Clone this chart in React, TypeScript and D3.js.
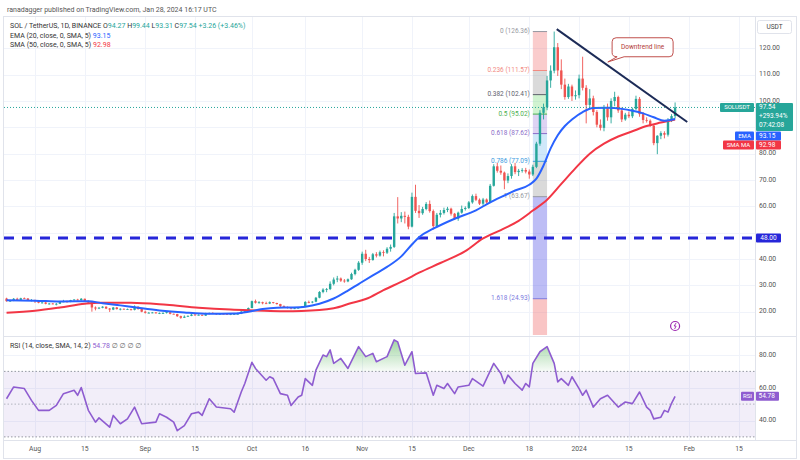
import React from "react";
import * as d3 from "d3";

type OHLC = [number, number, number, number];

// ---------- DATA ----------
const firstCandleDate = "2023-07-24";
const julCandles: OHLC[] = [
  [25.0, 25.3, 23.8, 24.0], [24.0, 24.5, 23.7, 24.2], [24.2, 25.2, 24.0, 24.9], [24.9, 25.3, 24.3, 24.5],
  [24.5, 25.3, 24.3, 25.1], [25.1, 25.4, 24.8, 25.0], [25.0, 25.2, 24.1, 24.3], [24.3, 24.8, 23.9, 24.4],
];
const augCandles: OHLC[] = [
  [24.4, 24.6, 23.3, 24.0], [24.0, 24.4, 23.2, 23.4], [23.4, 24.0, 23.1, 23.5], [23.5, 23.8, 22.8, 23.0],
  [23.0, 23.3, 22.7, 23.1], [23.1, 23.3, 22.8, 22.9], [22.9, 23.3, 22.4, 23.0], [23.0, 24.1, 22.9, 23.8],
  [23.8, 24.5, 23.6, 23.9], [23.9, 24.2, 23.5, 23.7], [23.7, 24.5, 23.6, 24.4], [24.4, 24.8, 24.2, 24.6],
  [24.6, 24.9, 24.2, 24.4], [24.4, 25.2, 24.2, 24.9], [24.9, 25.0, 23.7, 24.1], [24.1, 24.3, 23.2, 23.5],
  [23.5, 23.7, 20.0, 21.6], [21.6, 22.0, 20.5, 21.2], [21.2, 21.8, 21.0, 21.5], [21.5, 22.1, 21.3, 21.9],
  [21.9, 22.0, 21.0, 21.2], [21.2, 21.4, 19.9, 20.8], [20.8, 21.8, 20.6, 21.6], [21.6, 21.8, 20.8, 21.0],
  [21.0, 21.3, 20.5, 21.1], [21.1, 21.2, 20.8, 20.9], [20.9, 21.2, 20.7, 21.0], [21.0, 21.1, 20.4, 20.7],
  [20.7, 22.4, 20.5, 21.9], [21.9, 22.0, 20.8, 21.0], [21.0, 21.2, 19.8, 20.0],
];
const sepCandles: OHLC[] = [
  [20.0, 20.4, 19.3, 19.6], [19.6, 19.9, 19.4, 19.6], [19.6, 19.9, 19.4, 19.7], [19.7, 19.9, 19.3, 19.4],
  [19.4, 19.7, 19.1, 19.5], [19.5, 19.8, 19.2, 19.5], [19.5, 19.9, 19.3, 19.8], [19.8, 19.9, 19.0, 19.2],
  [19.2, 19.3, 19.0, 19.1], [19.1, 19.2, 18.0, 18.3], [18.3, 18.5, 17.3, 17.7], [17.7, 18.6, 17.6, 18.1],
  [18.1, 18.6, 18.0, 18.4], [18.4, 19.3, 18.3, 18.9], [18.9, 19.2, 18.5, 18.8], [18.8, 19.0, 18.6, 18.8],
  [18.8, 18.9, 18.4, 18.5], [18.5, 19.6, 18.4, 19.1], [19.1, 19.7, 19.0, 19.5], [19.5, 19.8, 19.2, 19.4],
  [19.4, 19.5, 18.8, 19.0], [19.0, 19.3, 18.9, 19.2], [19.2, 19.3, 19.0, 19.1], [19.1, 19.3, 18.9, 19.0],
  [19.0, 19.3, 18.7, 19.1], [19.1, 19.3, 18.9, 19.1], [19.1, 19.6, 18.9, 19.2], [19.2, 20.4, 19.1, 20.0],
  [20.0, 20.6, 19.9, 20.3], [20.3, 21.6, 20.2, 21.4],
];
const octCandles: OHLC[] = [
  [21.4, 24.2, 21.3, 24.0], [24.0, 24.6, 23.1, 23.4], [23.4, 24.0, 23.0, 23.6], [23.6, 23.8, 22.8, 23.2],
  [23.2, 23.8, 22.9, 23.1], [23.1, 23.9, 22.9, 23.6], [23.6, 23.7, 23.1, 23.3], [23.3, 23.4, 22.7, 22.9],
  [22.9, 23.0, 21.7, 22.1], [22.1, 22.4, 21.6, 21.8], [21.8, 22.0, 21.2, 21.5], [21.5, 21.6, 20.9, 21.2],
  [21.2, 21.6, 21.0, 21.3], [21.3, 21.7, 21.2, 21.5], [21.5, 22.0, 21.4, 21.9], [21.9, 24.0, 21.8, 23.7],
  [23.7, 24.2, 23.2, 23.6], [23.6, 24.0, 23.2, 23.8], [23.8, 25.6, 23.6, 25.3], [25.3, 27.8, 25.1, 27.5],
  [27.5, 28.9, 27.0, 28.4], [28.4, 29.0, 27.4, 28.6], [28.6, 31.5, 28.2, 30.6], [30.6, 33.0, 30.0, 32.2],
  [32.2, 33.6, 31.2, 32.6], [32.6, 33.0, 31.3, 31.8], [31.8, 32.4, 31.0, 31.5], [31.5, 32.6, 31.2, 32.3],
  [32.3, 34.8, 32.1, 34.3], [34.3, 36.3, 33.8, 35.9], [35.9, 39.2, 35.5, 38.6],
];
const novCandles: OHLC[] = [
  [38.6, 42.8, 37.8, 42.0], [42.0, 43.5, 39.2, 40.0], [40.0, 40.8, 38.5, 39.6], [39.6, 42.3, 39.4, 41.8],
  [41.8, 42.6, 40.6, 41.3], [41.3, 43.2, 40.9, 42.6], [42.6, 43.3, 41.0, 42.4], [42.4, 44.5, 41.9, 43.9],
  [43.9, 45.5, 42.8, 44.6], [44.6, 57.5, 44.2, 56.2], [56.2, 63.5, 53.5, 55.4], [55.4, 57.8, 54.0, 56.4],
  [56.4, 58.0, 53.5, 56.0], [56.0, 56.8, 51.3, 52.3], [52.3, 65.2, 52.0, 63.6], [63.6, 68.2, 57.5, 58.3],
  [58.3, 60.5, 55.6, 57.4], [57.4, 59.8, 56.8, 59.0], [59.0, 61.6, 58.5, 60.9], [60.9, 62.2, 57.6, 58.2],
  [58.2, 58.8, 51.2, 52.5], [52.5, 57.5, 52.0, 56.8], [56.8, 58.6, 55.8, 57.5], [57.5, 59.5, 56.9, 58.6],
  [58.6, 59.8, 57.8, 59.1], [59.1, 59.5, 56.5, 57.2], [57.2, 57.5, 54.8, 55.3], [55.3, 58.0, 54.5, 57.6],
  [57.6, 60.3, 57.2, 59.0], [59.0, 60.0, 58.4, 59.4],
];
const decCandles: OHLC[] = [
  [59.4, 62.0, 59.0, 61.5], [61.5, 64.5, 61.0, 63.9], [63.9, 64.8, 62.0, 62.5], [62.5, 63.0, 60.5, 61.0],
  [61.0, 63.2, 60.2, 62.6], [62.6, 63.0, 61.0, 61.5], [61.5, 68.5, 61.2, 67.8], [67.8, 76.0, 67.5, 75.2],
  [75.2, 76.5, 72.8, 73.5], [73.5, 75.5, 72.0, 72.8], [72.8, 73.2, 66.5, 69.8], [69.8, 72.5, 68.8, 71.5],
  [71.5, 76.0, 70.5, 75.2], [75.2, 76.5, 72.2, 73.0], [73.0, 74.2, 71.5, 73.5], [73.5, 74.5, 72.8, 73.8],
  [73.8, 74.6, 72.5, 73.2], [73.2, 74.0, 70.5, 72.1], [72.1, 75.8, 71.5, 75.0], [75.0, 84.5, 74.5, 83.8],
  [83.8, 96.5, 83.0, 95.5], [95.5, 99.0, 93.0, 97.6], [97.6, 109.5, 96.5, 107.8], [107.8, 113.5, 105.0, 111.5],
  [111.5, 126.36, 110.5, 120.4], [120.4, 122.0, 109.5, 111.6], [111.6, 115.8, 104.5, 106.2], [106.2, 108.5, 100.5, 101.5],
  [101.5, 106.5, 100.8, 105.5], [105.5, 106.2, 100.0, 101.8], [101.8, 104.0, 100.5, 102.2],
];
const janCandles: OHLC[] = [
  [102.2, 110.0, 101.0, 108.5], [108.5, 116.8, 104.0, 105.0], [105.0, 106.0, 91.5, 98.5], [98.5, 104.5, 97.5, 101.0],
  [101.0, 102.0, 94.5, 95.8], [95.8, 96.5, 90.0, 91.0], [91.0, 93.0, 88.8, 89.8], [89.8, 98.5, 88.5, 97.6],
  [97.6, 99.0, 92.5, 93.8], [93.8, 101.0, 91.5, 100.0], [100.0, 103.5, 98.0, 101.5], [101.5, 102.0, 95.5, 96.4],
  [96.4, 97.5, 92.0, 93.0], [93.0, 95.5, 92.5, 94.8], [94.8, 96.0, 93.5, 94.2], [94.2, 97.5, 93.5, 97.0],
  [97.0, 102.0, 96.5, 100.8], [100.8, 101.5, 94.0, 95.0], [95.0, 95.8, 91.5, 92.8], [92.8, 93.8, 91.8, 92.5],
  [92.5, 93.0, 90.2, 90.6], [90.6, 91.2, 83.2, 84.0], [84.0, 87.0, 79.8, 86.8], [86.8, 88.5, 85.5, 87.8],
  [87.8, 88.5, 85.8, 87.2], [87.2, 93.5, 86.5, 92.8], [92.8, 95.0, 92.0, 94.27], [94.27, 99.44, 93.31, 97.54],
];

// moving averages and RSI, sampled as days since this origin date
const seriesOriginDate = "2023-08-01";
const emaDays = [-8, 0, 7, 15, 19, 24, 28, 35, 42, 49, 56, 60, 64, 68, 72, 76, 80, 84, 88, 91, 95, 99, 103, 106, 108, 112, 118, 124, 128, 131, 135, 139, 141, 143, 145, 147, 149, 151, 154, 157, 161, 165, 168, 171, 174, 177, 180];
const emaValues = [24.3, 24.2, 23.9, 24.0, 23.2, 22.4, 21.7, 20.5, 19.7, 19.2, 19.3, 20.0, 21.0, 21.5, 21.6, 21.9, 23.0, 25.0, 28.0, 30.5, 33.8, 37.0, 41.0, 45.5, 48.3, 51.5, 55.3, 58.5, 61.5, 63.5, 66.0, 68.2, 70.5, 75.5, 82.0, 87.0, 90.5, 93.0, 95.8, 97.3, 97.4, 97.0, 96.3, 95.3, 93.8, 92.5, 93.15];
const smaDays = [-8, 0, 7, 14, 18, 27, 37, 46, 55, 62, 70, 75, 84, 89, 93, 98, 104, 108, 114, 121, 126, 131, 136, 140, 144, 148, 152, 156, 160, 164, 168, 172, 176, 180];
const smaValues = [19.6, 20.4, 21.6, 23.0, 23.4, 23.4, 22.6, 21.5, 20.8, 20.5, 20.2, 20.3, 21.3, 23.3, 24.8, 28.2, 32.0, 34.8, 38.5, 43.0, 47.8, 51.0, 54.5, 58.4, 62.5, 68.5, 74.5, 80.0, 83.8, 86.5, 88.5, 90.5, 91.8, 92.98];
const rsiDays = [-8, -6, -3, -1, 1, 4, 6, 8, 11, 12, 13, 15, 17, 18, 21, 22, 24, 26, 28, 30, 34, 35, 37, 39, 40, 42, 44, 46, 47, 49, 51, 55, 56, 58, 59, 61, 62, 65, 66, 67, 69, 71, 72, 74, 75, 76, 78, 79, 81, 82, 83, 84, 86, 88, 91, 93, 95, 96, 99, 101, 102, 104, 106, 107, 110, 112, 113, 115, 116, 118, 119, 122, 123, 126, 129, 131, 132, 133, 135, 137, 138, 139, 140, 142, 144, 146, 147, 148, 150, 151, 153, 154, 155, 157, 159, 161, 164, 166, 168, 170, 172, 173, 174, 176, 177, 178, 179, 180];
const rsiValues = [53.3, 60.5, 59.5, 52.3, 46.2, 46.2, 49.2, 56.4, 58.5, 55.4, 60.1, 46.2, 39.0, 41.6, 35.9, 43.1, 38.0, 41.0, 48.2, 38.0, 39.0, 44.1, 42.0, 39.0, 33.8, 36.9, 44.1, 45.1, 43.1, 53.3, 48.2, 47.2, 45.1, 57.4, 62.6, 75.5, 71.8, 64.6, 66.7, 65.6, 56.4, 55.4, 49.2, 54.4, 55.4, 65.6, 61.5, 70.8, 80.0, 79.0, 83.1, 74.9, 77.9, 71.8, 85.1, 79.0, 81.0, 75.9, 79.0, 89.2, 88.0, 73.8, 82.0, 68.7, 69.1, 55.4, 61.5, 59.5, 62.6, 56.4, 60.5, 61.5, 65.6, 61.0, 74.9, 68.7, 62.6, 67.7, 62.6, 58.5, 62.6, 60.5, 74.9, 82.0, 85.1, 74.9, 63.6, 65.6, 61.5, 66.7, 59.5, 55.4, 58.5, 48.2, 53.3, 55.4, 48.2, 51.3, 50.3, 57.4, 48.2, 46.2, 41.0, 42.0, 46.2, 45.1, 50.5, 54.78];

// axis labels shown on the price scale (90 and 50 are hidden behind tags in the original)
const priceGridTicks = [20, 30, 40, 50, 60, 70, 80, 90, 100, 110, 120];
const priceLabelTicks = [20, 30, 40, 60, 70, 80, 100, 110, 120];
const rsiTicks = [40, 60, 80];
const timeTickDates = ["2023-08-01", "2023-08-15", "2023-09-01", "2023-09-15", "2023-10-01", "2023-10-16", "2023-11-01", "2023-11-15", "2023-12-01", "2023-12-18", "2024-01-01", "2024-01-15", "2024-02-01", "2024-02-15"];
const timeTickLabels = ["Aug", "15", "Sep", "15", "Oct", "16", "Nov", "15", "Dec", "18", "2024", "15", "Feb", "15"];

const fibRatios = [0, 0.236, 0.382, 0.5, 0.618, 0.786, 1, 1.618];
const fibPrices = [126.36, 111.57, 102.41, 95.02, 87.62, 77.09, 63.67, 24.93];
const fibLineColors = ["#9598a1", "#f28b82", "#5d606b", "#4caf50", "#8a6cc8", "#3d9be0", "#9598a1", "#7b7be0"];
const fibFillColors = ["rgba(242,110,110,0.35)", "rgba(150,150,150,0.35)", "rgba(120,220,120,0.35)", "rgba(160,130,220,0.35)", "rgba(120,190,240,0.35)", "rgba(150,150,150,0.35)", "rgba(90,90,230,0.40)", "rgba(240,110,110,0.40)"];
const fibStartDate = "2023-12-19";
const fibEndDate = "2023-12-23";

const supportPrice = 48;
const trendDates = ["2023-12-25T17:00:00Z", "2024-01-31T10:00:00Z"];
const trendPrices = [127.3, 92.0];
const calloutText = "Downtrend line";
const calloutDate = "2024-01-10T07:00:00Z";
const calloutPrice = 124.0;
const calloutTipDate = "2024-01-09T02:00:00Z";
const calloutTipPrice = 114.8;

const lastPrice = 97.54;
const lastEma = 93.15;
const lastSma = 92.98;
const lastRsi = 54.78;

// ---------- LAYOUT ----------
const W = 800, H = 460;
const PL = 4, PR = 755;
const PT = 17, PB = 335;
const RT = 337, RB = 440;
const UP = "#26a69a", DOWN = "#ef5350";
const FONT = "Roboto, 'Open Sans', 'DejaVu Sans', sans-serif";

const utc = (s: string) => new Date(s.length <= 10 ? s + "T00:00:00Z" : s);

export default function App() {
  const candles: OHLC[] = [...julCandles, ...augCandles, ...sepCandles, ...octCandles, ...novCandles, ...decCandles, ...janCandles];
  const start = utc(firstCandleDate);
  const origin = utc(seriesOriginDate);

  const x = d3.scaleUtc()
    .domain([new Date(Date.UTC(2023, 6, 23, 6, 46)), new Date(Date.UTC(2024, 1, 19, 11, 17))])
    .range([PL, PR]);
  const y = d3.scaleLinear().domain([20, 120]).range([311.7, 48.3]);
  const yR = d3.scaleLinear().domain([40, 80]).range([420.5, 355]);

  const dayX = (d: number) => x(d3.utcDay.offset(origin, d));
  const bw = 2.4;

  const line = d3.line<[number, number]>().x((p) => p[0]).y((p) => p[1]).curve(d3.curveMonotoneX);
  const emaPts: [number, number][] = emaDays.map((d, i) => [dayX(d), y(emaValues[i])]);
  const smaPts: [number, number][] = smaDays.map((d, i) => [dayX(d), y(smaValues[i])]);
  const rsiPts: [number, number][] = rsiDays.map((d, i) => [dayX(d), yR(rsiValues[i])]);
  const rsiLine = d3.line<[number, number]>().x((p) => p[0]).y((p) => p[1]);
  const rsiArea = d3.area<[number, number]>().x((p) => p[0]).y0(yR(70)).y1((p) => p[1]);

  const fx0 = x(utc(fibStartDate));
  const fx1 = x(utc(fibEndDate));
  const fibBounds = [...fibPrices.map((p) => y(p)), PB];

  const tx0 = x(utc(trendDates[0])), ty0 = y(trendPrices[0]);
  const tx1 = x(utc(trendDates[1])), ty1 = y(trendPrices[1]);
  const cx = x(utc(calloutDate)), cy = y(calloutPrice);
  const tipX = x(utc(calloutTipDate)), tipY = y(calloutTipPrice);
  const cw = 61, ch = 19;

  const priceY = y(lastPrice);
  const rsiY = yR(lastRsi);

  return (
    <svg width={W} height={H} style={{ position: "absolute", left: 0, top: 0, background: "#fff", fontFamily: FONT }}>
      <defs>
        <clipPath id="pane"><rect x={PL} y={PT} width={PR - PL} height={PB - PT} /></clipPath>
        <clipPath id="rpane"><rect x={PL} y={RT} width={PR - PL} height={RB - RT} /></clipPath>
        <clipPath id="ob"><rect x={PL} y={RT} width={PR - PL} height={yR(70) - RT} /></clipPath>
        <linearGradient id="obg" gradientUnits="userSpaceOnUse" x1="0" y1={yR(90)} x2="0" y2={yR(70)}>
          <stop offset="0" stopColor="rgba(76,175,80,0.55)" />
          <stop offset="1" stopColor="rgba(76,175,80,0.04)" />
        </linearGradient>
      </defs>
      <rect x={0} y={0} width={W} height={H} fill="#fff" />
      <text x={7} y={11.5} fontSize={7} fill="#555">ranadagger published on TradingView.com, Jan 28, 2024 16:17 UTC</text>
      <rect x={3.5} y={16.5} width={793} height={442} fill="none" stroke="#e0e3eb" />

      {/* grid */}
      <g stroke="#f0f3fa" strokeWidth={1}>
        {timeTickDates.map((t) => (
          <line key={t} x1={Math.round(x(utc(t))) + 0.5} x2={Math.round(x(utc(t))) + 0.5} y1={PT} y2={RB} />
        ))}
        {priceGridTicks.map((p) => (
          <line key={p} x1={PL} x2={PR} y1={Math.round(y(p)) + 0.5} y2={Math.round(y(p)) + 0.5} />
        ))}
        {rsiTicks.map((p) => (
          <line key={p} x1={PL} x2={PR} y1={Math.round(yR(p)) + 0.5} y2={Math.round(yR(p)) + 0.5} />
        ))}
      </g>

      {/* price pane */}
      <g clipPath="url(#pane)">
        {fibFillColors.map((c, i) => (
          <rect key={"ff" + i} x={fx0} y={fibBounds[i]} width={fx1 - fx0} height={fibBounds[i + 1] - fibBounds[i]} fill={c} />
        ))}
        {fibPrices.map((p, i) => (
          <line key={"fl" + i} x1={fx0} x2={fx1} y1={y(p)} y2={y(p)} stroke={fibLineColors[i]} strokeWidth={1} />
        ))}
        {fibPrices.map((p, i) => (
          <text key={"ft" + i} x={fx0 - 3} y={y(p)} fontSize={6.5} fill={fibLineColors[i]} textAnchor="end" dominantBaseline="middle">
            {`${fibRatios[i]} (${p.toFixed(2)})`}
          </text>
        ))}

        <line x1={PL} x2={PR} y1={y(supportPrice)} y2={y(supportPrice)} stroke="#2626d9" strokeWidth={3} strokeDasharray="10 8" />

        {candles.map((c, i) => {
          const [o, h, l, cl] = c;
          const cxp = x(d3.utcDay.offset(start, i));
          const col = cl >= o ? UP : DOWN;
          const top = y(Math.max(o, cl));
          const bot = y(Math.min(o, cl));
          return (
            <g key={i}>
              <line x1={cxp} x2={cxp} y1={y(h)} y2={y(l)} stroke={col} strokeWidth={0.9} />
              <rect x={cxp - bw / 2} y={top} width={bw} height={Math.max(0.8, bot - top)} fill={col} />
            </g>
          );
        })}

        <path d={line(smaPts) || ""} fill="none" stroke="#f23645" strokeWidth={2} />
        <path d={line(emaPts) || ""} fill="none" stroke="#2962ff" strokeWidth={2} />

        <line x1={PL} x2={PR} y1={priceY} y2={priceY} stroke={UP} strokeWidth={1} strokeDasharray="1 2" />

        <line x1={tx0} y1={ty0} x2={tx1} y2={ty1} stroke="#1c2b57" strokeWidth={2} />

        <path
          d={`M${cx + 4},${cy} H${cx + cw - 4} Q${cx + cw},${cy} ${cx + cw},${cy + 4} V${cy + ch - 4} Q${cx + cw},${cy + ch} ${cx + cw - 4},${cy + ch} H${cx + 12} L${tipX},${tipY} L${cx + 5},${cy + ch} Q${cx},${cy + ch} ${cx},${cy + ch - 4} V${cy + 4} Q${cx},${cy} ${cx + 4},${cy} Z`}
          fill="#fff" stroke="#c0504d" strokeWidth={1}
        />
        <text x={cx + cw / 2} y={cy + ch / 2} fontSize={6.5} fill="#b23a36" textAnchor="middle" dominantBaseline="middle">{calloutText}</text>

        <circle cx={dayX(180)} cy={PB - 9} r={4.5} fill="#fff" stroke="#9c27b0" strokeWidth={1.2} />
        <path d={`M${dayX(180) + 1},${PB - 12} l-2,3 h2 l-1.5,3`} fill="none" stroke="#9c27b0" strokeWidth={0.9} />
      </g>

      {/* legends */}
      <text x={10} y={27.5} fontSize={7} fill="#333">
        <tspan>SOL / TetherUS, 1D, BINANCE </tspan>
        <tspan fill="#333"> O</tspan><tspan fill={UP}>94.27</tspan>
        <tspan fill="#333"> H</tspan><tspan fill={UP}>99.44</tspan>
        <tspan fill="#333"> L</tspan><tspan fill={UP}>93.31</tspan>
        <tspan fill="#333"> C</tspan><tspan fill={UP}>97.54 +3.26 (+3.46%)</tspan>
      </text>
      <text x={10} y={37.5} fontSize={7} fill="#333">
        <tspan>EMA (20, close, 0, SMA, 5) </tspan><tspan fill="#2962ff">{lastEma.toFixed(2)}</tspan>
      </text>
      <text x={10} y={47} fontSize={7} fill="#333">
        <tspan>SMA (50, close, 0, SMA, 5) </tspan><tspan fill="#f23645">{lastSma.toFixed(2)}</tspan>
      </text>

      <line x1={PR + 0.5} x2={PR + 0.5} y1={PT} y2={RB} stroke="#e0e3eb" />
      <line x1={PL} x2={796} y1={336.5} y2={336.5} stroke="#e0e3eb" />
      <line x1={PL} x2={796} y1={RB + 0.5} y2={RB + 0.5} stroke="#e0e3eb" />

      <rect x={757.5} y={20.5} width={34} height={13} rx={2} fill="#fff" stroke="#e0e3eb" />
      <text x={774.5} y={27.5} fontSize={6.5} fill="#444" textAnchor="middle" dominantBaseline="middle">USDT</text>
      {priceLabelTicks.map((p) => (
        <text key={p} x={759} y={y(p)} fontSize={6.8} fill="#555" dominantBaseline="middle">{p.toFixed(2)}</text>
      ))}

      <rect x={PR + 1} y={y(supportPrice) - 4.5} width={25} height={9} fill="#2626d9" rx={1} />
      <text x={PR + 13.5} y={y(supportPrice)} fontSize={6.5} fill="#fff" textAnchor="middle" dominantBaseline="middle">{supportPrice.toFixed(2)}</text>

      <rect x={720} y={priceY - 4.5} width={34} height={9} fill={UP} rx={1} />
      <text x={737} y={priceY} fontSize={6} fill="#fff" textAnchor="middle" dominantBaseline="middle">SOLUSDT</text>
      <rect x={PR + 1} y={priceY - 4.5} width={37} height={28} fill={UP} rx={1} />
      <text x={PR + 4} y={priceY} fontSize={6.5} fill="#fff" dominantBaseline="middle">{lastPrice.toFixed(2)}</text>
      <text x={PR + 4} y={priceY + 9} fontSize={6.5} fill="#fff" dominantBaseline="middle">+293.94%</text>
      <text x={PR + 4} y={priceY + 18} fontSize={6.5} fill="#fff" dominantBaseline="middle">07:42:08</text>

      <rect x={735} y={priceY + 24} width={19} height={9} fill="#2962ff" rx={1} />
      <text x={744.5} y={priceY + 28.5} fontSize={6} fill="#fff" textAnchor="middle" dominantBaseline="middle">EMA</text>
      <rect x={PR + 1} y={priceY + 24} width={25} height={9} fill="#2962ff" rx={1} />
      <text x={PR + 4} y={priceY + 28.5} fontSize={6.5} fill="#fff" dominantBaseline="middle">{lastEma.toFixed(2)}</text>

      <rect x={723} y={priceY + 33} width={31} height={9} fill="#f23645" rx={1} />
      <text x={738.5} y={priceY + 37.5} fontSize={6} fill="#fff" textAnchor="middle" dominantBaseline="middle">SMA MA</text>
      <rect x={PR + 1} y={priceY + 33} width={25} height={9} fill="#f23645" rx={1} />
      <text x={PR + 4} y={priceY + 37.5} fontSize={6.5} fill="#fff" dominantBaseline="middle">{lastSma.toFixed(2)}</text>

      {/* RSI pane */}
      <rect x={PL} y={yR(70)} width={PR - PL} height={yR(30) - yR(70)} fill="rgba(126,87,194,0.1)" />
      <g clipPath="url(#rpane)">
        <line x1={PL} x2={PR} y1={yR(70)} y2={yR(70)} stroke="#9598a1" strokeDasharray="1.5 2" />
        <line x1={PL} x2={PR} y1={yR(50)} y2={yR(50)} stroke="#b2b5be" strokeDasharray="1.5 2" />
        <line x1={PL} x2={PR} y1={yR(30)} y2={yR(30)} stroke="#9598a1" strokeDasharray="1.5 2" />
        <path d={rsiArea(rsiPts) || ""} fill="url(#obg)" clipPath="url(#ob)" />
        <path d={rsiLine(rsiPts) || ""} fill="none" stroke="#8e5cd0" strokeWidth={1.6} strokeLinejoin="round" />
      </g>
      <text x={10} y={347.5} fontSize={7} fill="#333">
        <tspan>RSI (14, close, SMA, 14, 2) </tspan><tspan fill="#8e5cd0">{lastRsi.toFixed(2)}</tspan>
        <tspan fill="#666">  ∅  ∅  ∅  ∅</tspan>
      </text>
      {rsiTicks.map((p) => (
        <text key={p} x={759} y={yR(p)} fontSize={6.8} fill="#555" dominantBaseline="middle">{p.toFixed(2)}</text>
      ))}
      <rect x={741} y={rsiY - 4.5} width={13} height={9} fill="#8e5cd0" rx={1} />
      <text x={747.5} y={rsiY} fontSize={6} fill="#fff" textAnchor="middle" dominantBaseline="middle">RSI</text>
      <rect x={PR + 1} y={rsiY - 4.5} width={23} height={9} fill="#8e5cd0" rx={1} />
      <text x={PR + 3.5} y={rsiY} fontSize={6.5} fill="#fff" dominantBaseline="middle">{lastRsi.toFixed(2)}</text>

      {timeTickDates.map((t, i) => (
        <text key={t} x={x(utc(t))} y={449.5} fontSize={6.8} fill="#555" textAnchor="middle" dominantBaseline="middle">{timeTickLabels[i]}</text>
      ))}
    </svg>
  );
}
